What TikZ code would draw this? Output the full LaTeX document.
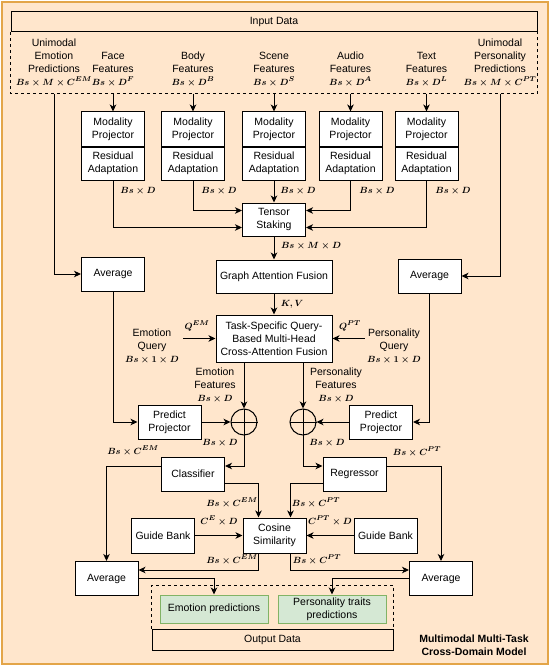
\documentclass[tikz,border=0pt]{standalone}
\usepackage{fontspec}
\setmainfont{Liberation Sans}
\usepackage{amsmath}
\usetikzlibrary{arrows.meta,calc}
\definecolor{bgfill}{HTML}{FFE6CC}
\definecolor{bgdraw}{HTML}{E3A548}
\definecolor{gfill}{HTML}{D5E8D4}
\definecolor{gdraw}{HTML}{82B366}
\newcommand{\mth}[1]{{\fontsize{9.3}{13}\selectfont\boldmath$#1$}}
\begin{document}
\begin{tikzpicture}[x=1pt,y=-1pt,
  every node/.style={font=\fontsize{10.5}{13}\selectfont, inner sep=0pt, align=center},
  box/.style={draw, fill=white, line width=1pt, minimum width=63pt, minimum height=34pt},
  arr/.style={line width=1pt, -{Stealth[length=7pt,width=6.5pt,inset=2pt]}},
  ln/.style={line width=1pt},
  dsh/.style={line width=1pt, dash pattern=on 3pt off 3pt},
]
\path[use as bounding box] (0,0) rectangle (550,666);
\draw[bgdraw, fill=bgfill, line width=1.5pt] (2,2) rectangle (548,664);

% input data
\node[draw, line width=1pt, minimum width=526pt, minimum height=20pt] (in) at (274,22) {Input Data};
\coordinate (dbot) at (0,94);
\draw[dsh] (in.south west) -- (in.south west |- dbot) -- (in.south east |- dbot) -- (in.south east);

\node[anchor=south] (uep) at (54,87) {Unimodal\\Emotion\\Predictions\\\mth{Bs\times M\times C^{EM}}};
\node[anchor=south] (ff) at (113,87) {Face\\Features\\\mth{Bs\times D^{F}}};
\node[anchor=south] (bf) at (193,87) {Body\\Features\\\mth{Bs\times D^{B}}};
\node[anchor=south] (sf) at (274,87) {Scene\\Features\\\mth{Bs\times D^{S}}};
\node[anchor=south] (af) at (350.5,87) {Audio\\Features\\\mth{Bs\times D^{A}}};
\node[anchor=south] (tf) at (426.5,87) {Text\\Features\\\mth{Bs\times D^{L}}};
\node[anchor=south] (upp) at (500,87) {Unimodal\\Personality\\Predictions\\\mth{Bs\times M\times C^{PT}}};

% modality boxes
\foreach \n/\x in {1/113,2/193,3/274,4/350.5,5/426.5}{
  \node[box] (mp\n) at (\x,129) {Modality\\Projector};
  \node[box, minimum height=33pt, anchor=north] (ra\n) at (mp\n.south) {Residual\\Adaptation};
  \draw[arr] (mp\n.north |- dbot) -- (mp\n.north);
}

% tensor staking
\node[box, minimum height=33pt] (ts) at (274,219.5) {Tensor\\Staking};
\draw[arr] (ra1.south) |- ([yshift=-8pt]ts.west);
\draw[arr] (ra2.south) |- ([yshift=9pt]ts.west);
\draw[arr] (ra3.south) -- (ts.north);
\draw[arr] (ra4.south) |- ([yshift=9pt]ts.east);
\draw[arr] (ra5.south) |- ([yshift=-8pt]ts.east);
\node (l1) at (138,191) {\mth{Bs\times D}};
\node (l2) at (219,191) {\mth{Bs\times D}};
\node (l3) at (298,191) {\mth{Bs\times D}};
\node (l4) at (377,191) {\mth{Bs\times D}};
\node (l5) at (453,191) {\mth{Bs\times D}};

% graph attention fusion
\node[box, minimum width=116pt, minimum height=33pt] (gaf) at (274,276.5) {Graph Attention Fusion};
\draw[arr] (ts.south) -- (gaf.north);
\node (lbmd) at (311,246) {\mth{Bs\times M\times D}};

% task-specific
\node[box, minimum width=116pt, minimum height=47pt] (tq) at (274,338.5) {Task-Specific Query-\\Based Multi-Head\\Cross-Attention Fusion};
\draw[arr] (gaf.south) -- (tq.north);
\node (lkv) at (292,304) {\mth{K,V}};

\node (eq) at (152,346) {Emotion\\Query\\\mth{Bs\times 1\times D}};
\node (pq) at (394,346) {Personality\\Query\\\mth{Bs\times 1\times D}};
\draw[arr] ([xshift=4pt]eq.east |- tq.west) -- (tq.west);
\draw[arr] ([xshift=-2pt]pq.west |- tq.east) -- (tq.east);
\node (qem) at (197,326) {\mth{Q^{EM}}};
\node (qpt) at (350,326) {\mth{Q^{PT}}};

% top averages
\node[box] (av1) at (113,274) {Average};
\node[box] (av2) at (429.5,276) {Average};
\draw[arr] (uep.south |- dbot) |- (av1.west);
\draw[arr] (upp.south |- dbot) |- (av2.east);

% circles
\node[circle, draw, line width=1pt, minimum size=26pt] (ox1) at (244,422) {};
\node[circle, draw, line width=1pt, minimum size=26pt] (ox2) at (303,422) {};
\draw[ln] (ox1.north) -- (ox1.south) (ox1.west) -- (ox1.east);
\draw[ln] (ox2.north) -- (ox2.south) (ox2.west) -- (ox2.east);
\draw[arr] (tq.south -| ox1.north) -- (ox1.north);
\draw[arr] (tq.south -| ox2.north) -- (ox2.north);
\node (efl) at (215,385) {Emotion\\Features\\\mth{Bs\times D}};
\node (pfl) at (336,385) {Personality\\Features\\\mth{Bs\times D}};

% predict projectors
\node[box] (pp1) at (169.5,422) {Predict\\Projector};
\node[box] (pp2) at (381,422) {Predict\\Projector};
\draw[arr] (av1.south) |- (pp1.west);
\draw[arr] (av2.south) |- (pp2.east);
\draw[arr] (pp1.east) -- (ox1.west);
\draw[arr] (pp2.west) -- (ox2.east);
\node (lo1) at (220,443) {\mth{Bs\times D}};
\node (lo2) at (327,443) {\mth{Bs\times D}};

% classifier / regressor
\node[box] (cl) at (193,474) {Classifier};
\node[box] (rg) at (354.5,474) {Regressor};
\draw[arr] (ox1.south) |- ([yshift=8pt]cl.east);
\draw[arr] (ox2.south) |- ([yshift=8pt]rg.west);

% cosine similarity
\node[box, minimum height=35pt] (cs) at (274.5,535.5) {Cosine\\Similarity};
\draw[arr] ([yshift=-9pt]cl.east) -| ([xshift=-16pt]cs.north);
\draw[arr] ([yshift=-9pt]rg.west) -| ([xshift=16pt]cs.north);
\node (lc1) at (232,503) {\mth{Bs\times C^{EM}}};
\node (lc2) at (316,503) {\mth{Bs\times C^{PT}}};

\node[box, minimum height=35pt] (gb1) at (163,535.5) {Guide Bank};
\node[box, minimum height=35pt] (gb2) at (385.5,535.5) {Guide Bank};
\draw[arr] (gb1.east) -- (cs.west);
\draw[arr] (gb2.west) -- (cs.east);
\node (lg1) at (219,521) {\mth{C^{E}\times D}};
\node (lg2) at (330,521) {\mth{C^{PT}\times D}};

% bottom averages
\node[box] (av3) at (106.5,578.5) {Average};
\node[box] (av4) at (441,578.5) {Average};
\draw[arr] ([yshift=8pt]cl.west) -| (av3.north);
\draw[arr] ([yshift=8pt]rg.east) -| (av4.north);
\node (lcl) at (133,451) {\mth{Bs\times C^{EM}}};
\node (lrg) at (417,452) {\mth{Bs\times C^{PT}}};
\draw[arr] ([xshift=-16pt]cs.south) |- ([yshift=8.5pt]av3.east);
\draw[arr] ([xshift=16pt]cs.south) |- ([yshift=8.5pt]av4.west);
\node (ls1) at (232,560) {\mth{Bs\times C^{EM}}};
\node (ls2) at (317,560) {\mth{Bs\times C^{PT}}};

% output
\node[draw, line width=1pt, minimum width=241pt, minimum height=21pt] (od) at (272.5,639.5) {Output Data};
\coordinate (otop) at (0,585);
\draw[dsh] (od.north west) -- (od.north west |- otop) -- (od.north east |- otop) -- (od.north east);
\node[draw=gdraw, fill=gfill, line width=1pt, minimum width=108pt, minimum height=28pt] (ep) at (214,609) {Emotion predictions};
\node[draw=gdraw, fill=gfill, line width=1pt, minimum width=108pt, minimum height=28pt] (ptp) at (332,609) {Personality traits\\predictions};
\draw[arr] (av3.east) -| (ep.north);
\draw[arr] (av4.west) -| (ptp.north);

\node[font=\bfseries\fontsize{10.5}{13}\selectfont] (ttl) at (474,645) {Multimodal Multi-Task\\Cross-Domain Model};
\end{tikzpicture}
\end{document}
